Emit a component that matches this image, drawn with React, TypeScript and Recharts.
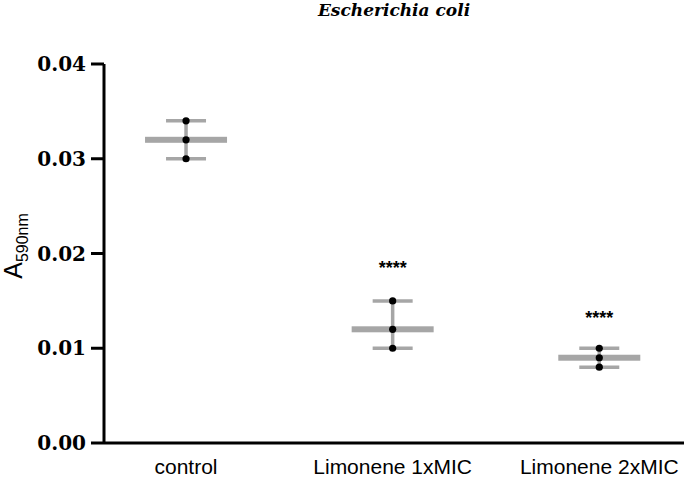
import React from "react";
import {
  ComposedChart, Scatter, XAxis, YAxis, ErrorBar,
} from "recharts";

const CATEGORIES = ["control", "Limonene 1xMIC", "Limonene 2xMIC"];

// individual replicates (A590nm)
const CONTROL_PTS = [0.034, 0.032, 0.030];
const LIM1_PTS    = [0.015, 0.012, 0.010];
const LIM2_PTS    = [0.010, 0.009, 0.008];

// median with range
const MEDIANS   = [0.032, 0.012, 0.009];
const RANGE_LO  = [0.030, 0.010, 0.008];
const RANGE_HI  = [0.034, 0.015, 0.010];

// significance marks, placed above each group
const SIG_LABELS = ["", "****", "****"];
const SIG_Y      = [0, 0.0185, 0.0132];

const Y_TICKS = [0, 0.01, 0.02, 0.03, 0.04];

const GRAY = "#a6a6a6";

const points = [CONTROL_PTS, LIM1_PTS, LIM2_PTS].flatMap((arr, i) =>
  arr.map((y) => ({ x: i, y }))
);

const medians = MEDIANS.map((m, i) => ({
  x: i,
  y: m,
  err: [m - RANGE_LO[i], RANGE_HI[i] - m],
}));

const stars = SIG_LABELS.map((label, i) => ({ x: i, y: SIG_Y[i], label })).filter((s) => s.label);

function MedianBar(props: any) {
  const { cx, cy } = props;
  return <rect x={cx - 41} y={cy - 3} width={82} height={6} fill={GRAY} />;
}

function Dot(props: any) {
  const { cx, cy } = props;
  return <circle cx={cx} cy={cy} r={3.6} fill="#000" />;
}

function Stars(props: any) {
  const { cx, cy, payload } = props;
  return (
    <text x={cx} y={cy} textAnchor="middle" dominantBaseline="central"
      fontFamily="Liberation Sans" fontWeight="bold" fontSize={18} fill="#000">
      {payload.label}
    </text>
  );
}

function YLabel() {
  return (
    <text transform="translate(22, 246) rotate(-90)" textAnchor="middle"
      fontFamily="Liberation Sans" fill="#000">
      <tspan fontSize={25}>A</tspan>
      <tspan fontSize={16} dy={6}>590nm</tspan>
    </text>
  );
}

export default function App() {
  return (
    <div style={{ position: "absolute", left: 0, top: 0, width: 685, height: 479, background: "#fff" }}>
      <div style={{
        position: "absolute", left: 0, width: 788, top: 0, textAlign: "center",
        fontFamily: "DejaVu Serif", fontStyle: "italic", fontWeight: "bold", fontSize: 17,
      }}>
        Escherichia coli
      </div>
      <ComposedChart width={685} height={479} margin={{ top: 64, right: 1, bottom: 0, left: 0 }}>
        <XAxis
          type="number" dataKey="x" domain={[-0.397, 2.41]} ticks={[0, 1, 2]}
          allowDataOverflow
          tickFormatter={(v: number) => CATEGORIES[v] ?? ""}
          tick={{ fontFamily: "Liberation Sans", fontSize: 21, fill: "#000" }}
          tickLine={false} tickMargin={10} height={36}
          axisLine={{ stroke: "#000", strokeWidth: 3 }}
        />
        <YAxis
          type="number" domain={[0, 0.04]} ticks={Y_TICKS} width={104}
          tickFormatter={(v: number) => v.toFixed(2)}
          tick={{ fontFamily: "DejaVu Serif", fontWeight: "bold", fontSize: 20, fill: "#000" }}
          tickSize={13} tickMargin={5}
          tickLine={{ stroke: "#000", strokeWidth: 3 }}
          axisLine={{ stroke: "#000", strokeWidth: 3 }}
          label={<YLabel />}
        />
        <Scatter data={medians} dataKey="y" shape={<MedianBar />} isAnimationActive={false}>
          <ErrorBar dataKey="err" direction="y" width={20} stroke={GRAY} strokeWidth={3.5} isAnimationActive={false} />
        </Scatter>
        <Scatter data={points} dataKey="y" shape={<Dot />} isAnimationActive={false} />
        <Scatter data={stars} dataKey="y" shape={<Stars />} isAnimationActive={false} />
      </ComposedChart>
    </div>
  );
}
